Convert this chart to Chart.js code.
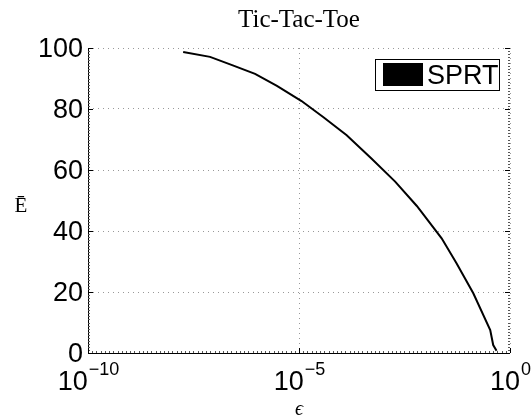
<!DOCTYPE html>
<html>
<head>
<meta charset="utf-8">
<script src="https://cdn.jsdelivr.net/npm/chart.js@4"></script>
<style>
  body { margin: 0; background: #fff; }
  canvas { display: block; }
</style>
</head>
<body>
<canvas id="myChart" width="531" height="419"></canvas>
<script>
const title = "Tic-Tac-Toe";
const seriesName = "SPRT";
const epsilon = [1.8e-8, 7.8e-8, 2.6e-7, 9.1e-7, 3.0e-6, 1.15e-5, 3.8e-5, 1.35e-4,
  5.2e-4, 1.9e-3, 6.2e-3, 0.024, 0.054, 0.135, 0.34, 0.40, 0.48];
const effort = [98.7, 97.1, 94.4, 91.5, 87.6, 82.6, 77.3, 71.4,
  63.8, 56.2, 48.2, 37.6, 29.4, 19.6, 7.5, 2.6, 0.75];
const xTicks = [1e-10, 1e-5, 1];
const xTickExp = ["\u221210", "\u22125", "0"];
const yTicks = [0, 20, 40, 60, 80, 100];

const sans = "'Liberation Sans', Arial, sans-serif";
const serif = "'Liberation Serif', 'DejaVu Serif', serif";

const decor = {
  id: "decor",
  afterDraw(chart) {
    const c = chart.ctx;
    const a = chart.chartArea;
    const xs = chart.scales.x;
    const ys = chart.scales.y;
    c.save();
    c.strokeStyle = "#000";
    c.lineWidth = 1;
    c.setLineDash([]);
    // solid axes (left and bottom)
    c.beginPath();
    c.moveTo(Math.round(a.left) + 0.5, a.top);
    c.lineTo(Math.round(a.left) + 0.5, Math.round(a.bottom) + 0.5);
    c.lineTo(a.right, Math.round(a.bottom) + 0.5);
    c.stroke();
    // minor ticks
    c.strokeStyle = "#555";
    c.beginPath();
    for (let e = -10; e <= 0.001; e += 0.1) {
      const px = Math.round(xs.getPixelForValue(Math.pow(10, e))) + 0.5;
      c.moveTo(px, a.bottom); c.lineTo(px, a.bottom - 2);
    }
    for (let v = 0; v <= 100; v += 1) {
      const py = Math.round(ys.getPixelForValue(v)) + 0.5;
      c.moveTo(a.left, py); c.lineTo(a.left + 2, py);
      c.moveTo(a.right, py); c.lineTo(a.right - 2, py);
    }
    c.stroke();
    // major ticks
    c.strokeStyle = "#000";
    c.beginPath();
    xTicks.forEach(t => {
      const px = Math.round(xs.getPixelForValue(t)) + 0.5;
      c.moveTo(px, a.bottom); c.lineTo(px, a.bottom - 5);
    });
    yTicks.forEach(t => {
      const py = Math.round(ys.getPixelForValue(t)) + 0.5;
      c.moveTo(a.left, py); c.lineTo(a.left + 5, py);
      c.moveTo(a.right, py); c.lineTo(a.right - 5, py);
    });
    c.stroke();

    c.fillStyle = "#000";
    // y tick labels
    c.font = "27px " + sans;
    c.textAlign = "right";
    c.textBaseline = "middle";
    yTicks.forEach(t => {
      c.fillText(String(t), a.left - 5, ys.getPixelForValue(t) + 2);
    });
    // x tick labels 10^k
    c.textBaseline = "alphabetic";
    xTicks.forEach((t, i) => {
      c.font = "27px " + sans;
      const wb = c.measureText("10").width;
      c.font = "18px " + sans;
      const we = c.measureText(xTickExp[i]).width;
      const start = xs.getPixelForValue(t) - (wb + we) / 2;
      c.textAlign = "left";
      c.font = "27px " + sans;
      c.fillText("10", start, 390);
      c.font = "18px " + sans;
      c.fillText(xTickExp[i], start + wb + 1, 375);
    });
    // title and axis labels
    c.textAlign = "center";
    c.font = "25px " + serif;
    c.fillText(title, (a.left + a.right) / 2, 27);
    c.font = "21px " + serif;
    c.fillText("\u0112", 21, 212);
    c.font = "italic 20px " + serif;
    c.fillText("\u03f5", (a.left + a.right) / 2, 415);

    // legend
    const bx = 375, by = 59, bw = 124, bh = 31;
    c.fillStyle = "#fff";
    c.fillRect(bx, by, bw, bh);
    c.strokeRect(bx + 0.5, by + 0.5, bw, bh);
    c.fillStyle = "#000";
    c.fillRect(383, 63, 40, 23);
    c.font = "27px " + sans;
    c.textAlign = "left";
    c.fillText(chart.data.datasets[0].label, 427, 84);
    c.restore();
  }
};

const ctx = document.getElementById("myChart");

new Chart(ctx, {
  type: "line",
  data: {
    datasets: [
      {
        label: seriesName,
        data: epsilon.map((e, i) => ({ x: e, y: effort[i] })),
        borderColor: "#000",
        backgroundColor: "#000",
        borderWidth: 2,
        pointRadius: 0,
        tension: 0,
      },
    ],
  },
  options: {
    responsive: false,
    animation: false,
    events: [],
    layout: { padding: { left: 88, right: 21, top: 48, bottom: 66 } },
    plugins: { legend: { display: false }, title: { display: false }, tooltip: { enabled: false } },
    scales: {
      x: {
        type: "logarithmic",
        min: 1e-10,
        max: 1,
        afterBuildTicks: (s) => { s.ticks = xTicks.map(v => ({ value: v })); },
        ticks: { display: false },
        grid: { color: "#999", drawTicks: false },
        border: { display: false, dash: [1, 4] },
      },
      y: {
        min: 0,
        max: 100,
        afterBuildTicks: (s) => { s.ticks = yTicks.map(v => ({ value: v })); },
        ticks: { display: false },
        grid: { color: "#999", drawTicks: false },
        border: { display: false, dash: [1, 4] },
      },
    },
  },
  plugins: [decor],
});
</script>
</body>
</html>
